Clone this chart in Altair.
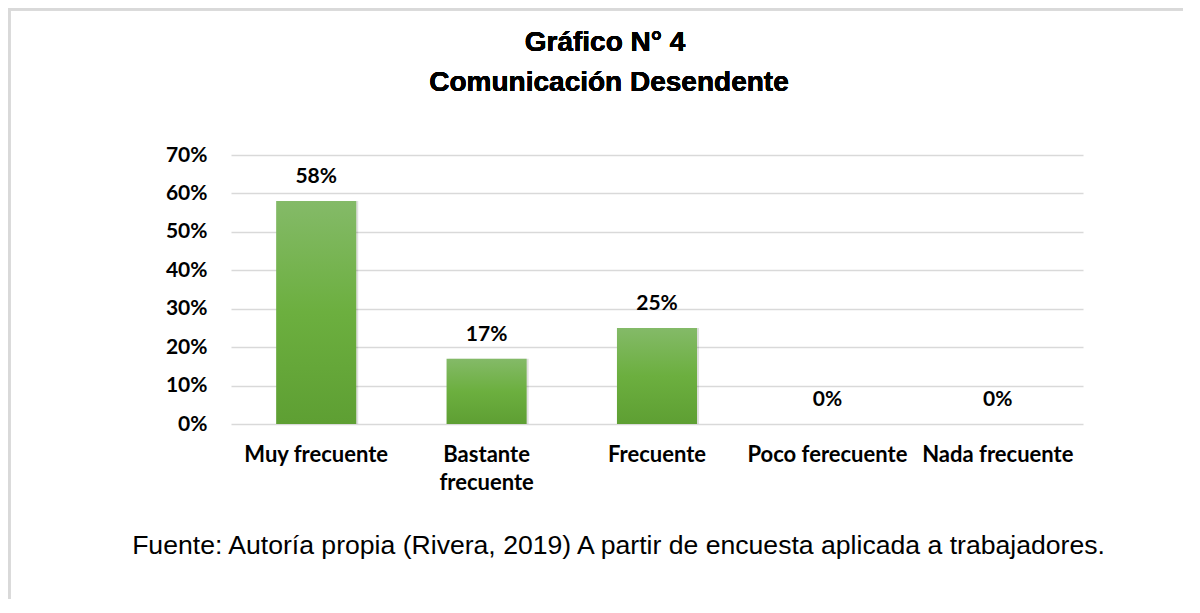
import altair as alt
import pandas as pd

categories = ["Muy frecuente", "Bastante frecuente", "Frecuente", "Poco ferecuente", "Nada frecuente"]
values = [0.58, 0.17, 0.25, 0.0, 0.0]
y_ticks = [0, 0.1, 0.2, 0.3, 0.4, 0.5, 0.6, 0.7]
title_line1 = "Gráfico N° 4"
title_line2 = "Comunicación Desendente"
footer = "Fuente: Autoría propia (Rivera, 2019) A partir de encuesta aplicada a trabajadores."

df = pd.DataFrame({"cat": categories, "val": values})

W, H = 852, 269
PAD = {"left": 223, "top": 147, "right": 100, "bottom": 175}

label_font = "Lato"
FS = 21
x_enc = alt.X(
    "cat:N",
    sort=categories,
    scale=alt.Scale(paddingInner=0.53, paddingOuter=0.265),
    axis=alt.Axis(
        title=footer,
        titleFont="Liberation Sans",
        titleFontSize=26.6,
        titleFontWeight="normal",
        titleColor="#000000",
        titleX=387,
        titleY=121,
        titleAlign="center",
        titleBaseline="middle",
        labelAngle=0,
        labelFont=label_font,
        labelFontSize=22,
        labelFontWeight="bold",
        labelColor="#000000",
        labelPadding=20,
        labelLineHeight=28,
        labelExpr="datum.label == 'Bastante frecuente' ? ['Bastante', 'frecuente'] : datum.label",
        domain=False,
        ticks=False,
        grid=False,
    ),
)
y_enc = alt.Y(
    "val:Q",
    scale=alt.Scale(domain=[0, 0.7], nice=False),
    axis=alt.Axis(
        title=None,
        values=y_ticks,
        format=".0%",
        labelFont=label_font,
        labelFontSize=FS,
        labelFontWeight="bold",
        labelColor="#000000",
        labelPadding=24,
        domain=False,
        ticks=False,
        grid=True,
        gridColor="#d9d9d9",
        gridWidth=1.5,
    ),
)

base = alt.Chart(df)

shadow = base.mark_bar(color="#000000", opacity=0.12, xOffset=2).encode(
    x=x_enc, y=y_enc
)

grad = alt.Gradient(
    gradient="linear",
    x1=0, y1=0, x2=0, y2=1,
    stops=[
        alt.GradientStop(color="#84ba68", offset=0),
        alt.GradientStop(color="#6caf3f", offset=0.5),
        alt.GradientStop(color="#5e9f33", offset=1),
    ],
)
bars = base.mark_bar(color=grad).encode(x=x_enc, y=y_enc)

labels = base.mark_text(
    font=label_font, fontSize=FS, fontWeight="bold", color="#000000",
    baseline="middle", dy=-24,
).encode(x=x_enc, y=y_enc, text=alt.Text("val:Q", format=".0%"))

title1 = alt.Chart(df).mark_text(
    text=title_line1, font="Liberation Sans", fontSize=28, fontWeight="bold",
    color="#000000", align="center", baseline="middle",
).encode(x=alt.value(374), y=alt.value(-112))
title2 = alt.Chart(df).mark_text(
    text=title_line2, font="Liberation Sans", fontSize=28, fontWeight="bold",
    color="#000000", align="center", baseline="middle",
).encode(x=alt.value(378), y=alt.value(-72))

frame_top = alt.Chart(df).mark_rule(color="#d9d9d9", strokeWidth=3).encode(
    x=alt.value(-223), x2=alt.value(W + PAD["right"]), y=alt.value(-146)
)
frame_left = alt.Chart(df).mark_rule(color="#d9d9d9", strokeWidth=3).encode(
    x=alt.value(-222), y=alt.value(-147), y2=alt.value(H + PAD["bottom"])
)

chart = (
    alt.layer(frame_top, frame_left, shadow, bars, labels, title1, title2)
    .properties(
        width=W,
        height=H,
        padding=PAD,
        autosize=alt.AutoSizeParams(type="none"),
    )
    .configure(background="white", view=alt.ViewConfig(strokeWidth=0, stroke="transparent"))
)

chart.save("out.html", embed_options={"renderer": "svg", "actions": False})
